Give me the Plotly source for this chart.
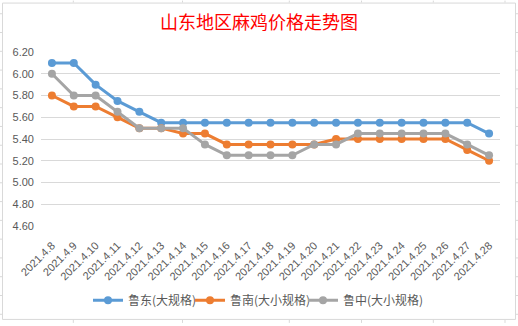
import plotly.graph_objects as go

dates = ["2021.4.8", "2021.4.9", "2021.4.10", "2021.4.11", "2021.4.12", "2021.4.13", "2021.4.14",
         "2021.4.15", "2021.4.16", "2021.4.17", "2021.4.18", "2021.4.19", "2021.4.20", "2021.4.21",
         "2021.4.22", "2021.4.23", "2021.4.24", "2021.4.25", "2021.4.26", "2021.4.27", "2021.4.28"]

ludong = [6.10, 6.10, 5.90, 5.75, 5.65, 5.55, 5.55, 5.55, 5.55, 5.55, 5.55, 5.55, 5.55, 5.55,
          5.55, 5.55, 5.55, 5.55, 5.55, 5.55, 5.45]
lunan = [5.80, 5.70, 5.70, 5.60, 5.50, 5.50, 5.45, 5.45, 5.35, 5.35, 5.35, 5.35, 5.35, 5.40,
         5.40, 5.40, 5.40, 5.40, 5.40, 5.30, 5.20]
luzhong = [6.00, 5.80, 5.80, 5.65, 5.50, 5.50, 5.50, 5.35, 5.25, 5.25, 5.25, 5.25, 5.35, 5.35,
           5.45, 5.45, 5.45, 5.45, 5.45, 5.35, 5.25]

series_names = ["鲁东(大规格)", "鲁南(大小规格)", "鲁中(大小规格)"]
series_colors = ["#5B9BD5", "#ED7D31", "#A5A5A5"]
y_ticks = [4.6, 4.8, 5.0, 5.2, 5.4, 5.6, 5.8, 6.0, 6.2]

W, H = 518, 326
ML, MR, MT, MB = 41, 18, 52, 98
PW, PH = W - ML - MR, H - MT - MB

def px_x(x):
    return (x - ML) / PW

def px_y(y):
    return (H - MB - y) / PH

legend_ids = ["legend", "legend2", "legend3"]
legend_left_px = [88, 190, 303]

fig = go.Figure()
for name, vals, col, lg in zip(series_names, [ludong, lunan, luzhong], series_colors, legend_ids):
    fig.add_trace(go.Scatter(
        x=dates, y=vals, name=name, mode="lines+markers", legend=lg,
        line=dict(color=col, width=3), marker=dict(color=col, size=8),
    ))

shapes = []
shapes.append(dict(type="rect", xref="paper", yref="paper",
                   x0=px_x(2.5), x1=px_x(515.5), y0=px_y(322.5), y1=px_y(2.5),
                   line=dict(color="#D9D9D9", width=1), layer="below"))
for k in range(17):
    yy = 13.3 + 19 * k
    shapes.append(dict(type="line", xref="paper", yref="paper",
                       x0=px_x(0), x1=px_x(2), y0=px_y(yy), y1=px_y(yy),
                       line=dict(color="#D9D9D9", width=1)))
    shapes.append(dict(type="line", xref="paper", yref="paper",
                       x0=px_x(516), x1=px_x(518), y0=px_y(yy), y1=px_y(yy),
                       line=dict(color="#D9D9D9", width=1)))
for xx in [73.3, 182.5, 289.3, 361.5, 433.3, 505]:
    shapes.append(dict(type="line", xref="paper", yref="paper",
                       x0=px_x(xx), x1=px_x(xx), y0=px_y(0), y1=px_y(2),
                       line=dict(color="#D9D9D9", width=1)))
    shapes.append(dict(type="line", xref="paper", yref="paper",
                       x0=px_x(xx), x1=px_x(xx), y0=px_y(323), y1=px_y(326),
                       line=dict(color="#D9D9D9", width=1)))

legend_style = dict(orientation="h", yanchor="middle", y=px_y(303), xanchor="left",
                    font=dict(family="Noto Sans CJK SC", size=12, color="#595959"),
                    itemwidth=30, bgcolor="rgba(0,0,0,0)", borderwidth=0)

fig.update_layout(
    width=W, height=H,
    margin=dict(l=ML, r=MR, t=MT, b=MB),
    paper_bgcolor="white", plot_bgcolor="white",
    title=dict(text="山东地区麻鸡价格走势图", x=0.5, xanchor="center",
               y=1 - 23 / H, yanchor="middle", yref="container",
               font=dict(family="Noto Sans CJK SC", size=18, color="#FF0000")),
    xaxis=dict(type="category", range=[-0.5, len(dates) - 0.5], showgrid=False,
               showline=False, zeroline=False, tickangle=-45, ticklabelstandoff=10,
               tickfont=dict(family="Liberation Sans, Noto Sans CJK SC", size=11, color="#595959"),
               ticks=""),
    yaxis=dict(range=[4.6, 6.2], tickvals=y_ticks, tickformat=".2f",
               showgrid=True, gridcolor="#D9D9D9", gridwidth=1, zeroline=False,
               showline=False, ticks="", ticklabelstandoff=6,
               tickfont=dict(family="Liberation Sans, Noto Sans CJK SC", size=11, color="#595959")),
    legend=dict(x=px_x(legend_left_px[0]), **legend_style),
    legend2=dict(x=px_x(legend_left_px[1]), **legend_style),
    legend3=dict(x=px_x(legend_left_px[2]), **legend_style),
    shapes=shapes,
    showlegend=True,
)

fig.write_html("out.html")
